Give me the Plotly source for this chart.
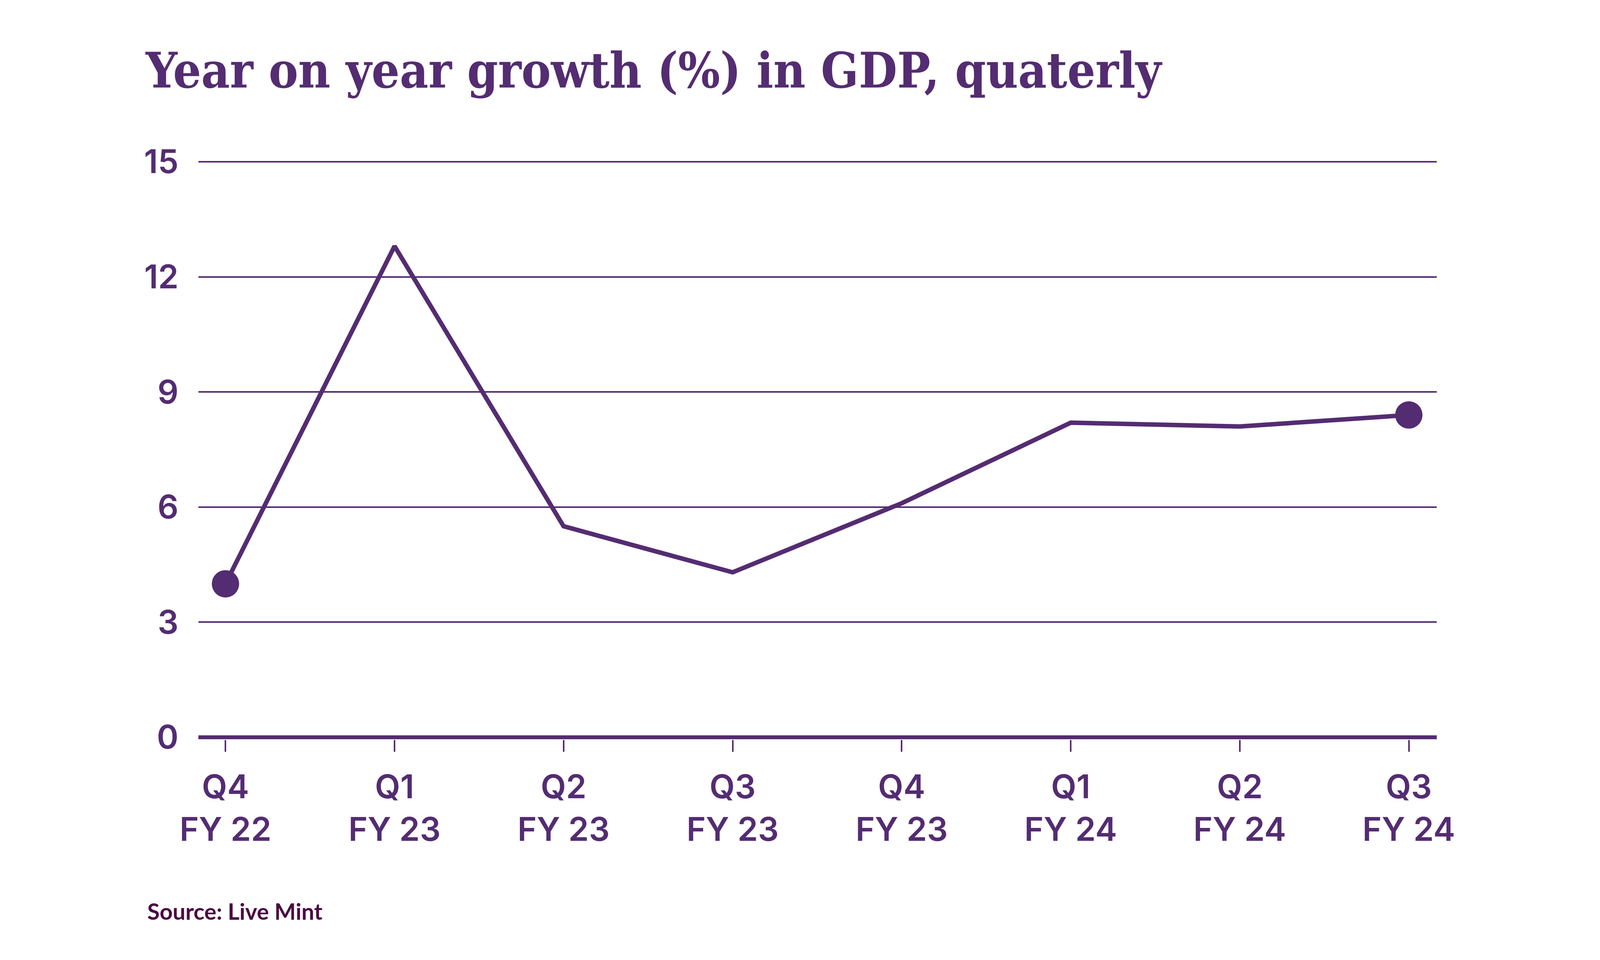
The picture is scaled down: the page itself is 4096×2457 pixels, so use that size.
import plotly.graph_objects as go

# ---- data ----
quarters = ["Q4", "Q1", "Q2", "Q3", "Q4", "Q1", "Q2", "Q3"]
fiscal_years = ["FY 22", "FY 23", "FY 23", "FY 23", "FY 23", "FY 24", "FY 24", "FY 24"]
growth = [4.0, 12.8, 5.5, 4.3, 6.1, 8.2, 8.1, 8.4]
y_ticks = [0, 3, 6, 9, 12, 15]

title_text = "Year on year growth (%) in GDP, quaterly"
source_text = "Source: Live Mint"

PURPLE = "#542C72"
SOURCE_COLOR = "#4A0A42"

labels = [f"{q}<br>{fy}" for q, fy in zip(quarters, fiscal_years)]

W, H = 4096, 2457
L, R, T, B = 500, 426, 400, 572
YPAD = 0.061

fig = go.Figure()
fig.add_trace(go.Scatter(
    x=labels, y=growth, mode="lines",
    line=dict(color=PURPLE, width=11.5),
    hoverinfo="skip", showlegend=False,
))
fig.add_trace(go.Scatter(
    x=[labels[0], labels[-1]], y=[growth[0], growth[-1]], mode="markers",
    marker=dict(color=PURPLE, size=70, line=dict(width=0)),
    cliponaxis=False, hoverinfo="skip", showlegend=False,
))

fig.add_shape(type="line", xref="paper", x0=0, x1=1, yref="y", y0=0, y1=0,
              line=dict(color=PURPLE, width=10), layer="above")

fig.add_annotation(
    text=f"<b>{source_text}</b>", xref="paper", yref="paper",
    x=(367 - L) / (W - L - R), y=(H - B - 2323) / (H - T - B),
    xanchor="left", yanchor="middle", showarrow=False,
    font=dict(family="Lato", size=58, color=SOURCE_COLOR),
)

fig.update_layout(
    width=W, height=H,
    margin=dict(l=L, r=R, t=T, b=B, pad=0),
    paper_bgcolor="white", plot_bgcolor="white",
    title=dict(
        text=f"<b>{title_text}</b>",
        xref="container", yref="container",
        x=365 / W, xanchor="left",
        y=1 - 128 / H, yanchor="top",
        font=dict(family="DejaVu Serif Condensed, DejaVu Serif", size=126, color=PURPLE),
    ),
    font=dict(family="Inter", color=PURPLE),
    xaxis=dict(
        type="category", categoryorder="array", categoryarray=labels,
        range=[-0.16, 7.165],
        showgrid=False, zeroline=False, showline=False,
        ticks="outside", ticklen=30, tickwidth=4, tickcolor=PURPLE,
        ticklabelstandoff=18,
        tickfont=dict(family="Inter", size=84, color=PURPLE, weight=600),
    ),
    yaxis=dict(
        range=[-YPAD, 15 + YPAD], tickvals=y_ticks, ticktext=[str(v) for v in y_ticks],
        showgrid=True, gridcolor=PURPLE, gridwidth=4,
        zeroline=False, showline=False, ticks="",
        ticklabelstandoff=50,
        tickfont=dict(family="Inter", size=84, color=PURPLE, weight=600),
    ),
)

fig.write_html("out.html")
